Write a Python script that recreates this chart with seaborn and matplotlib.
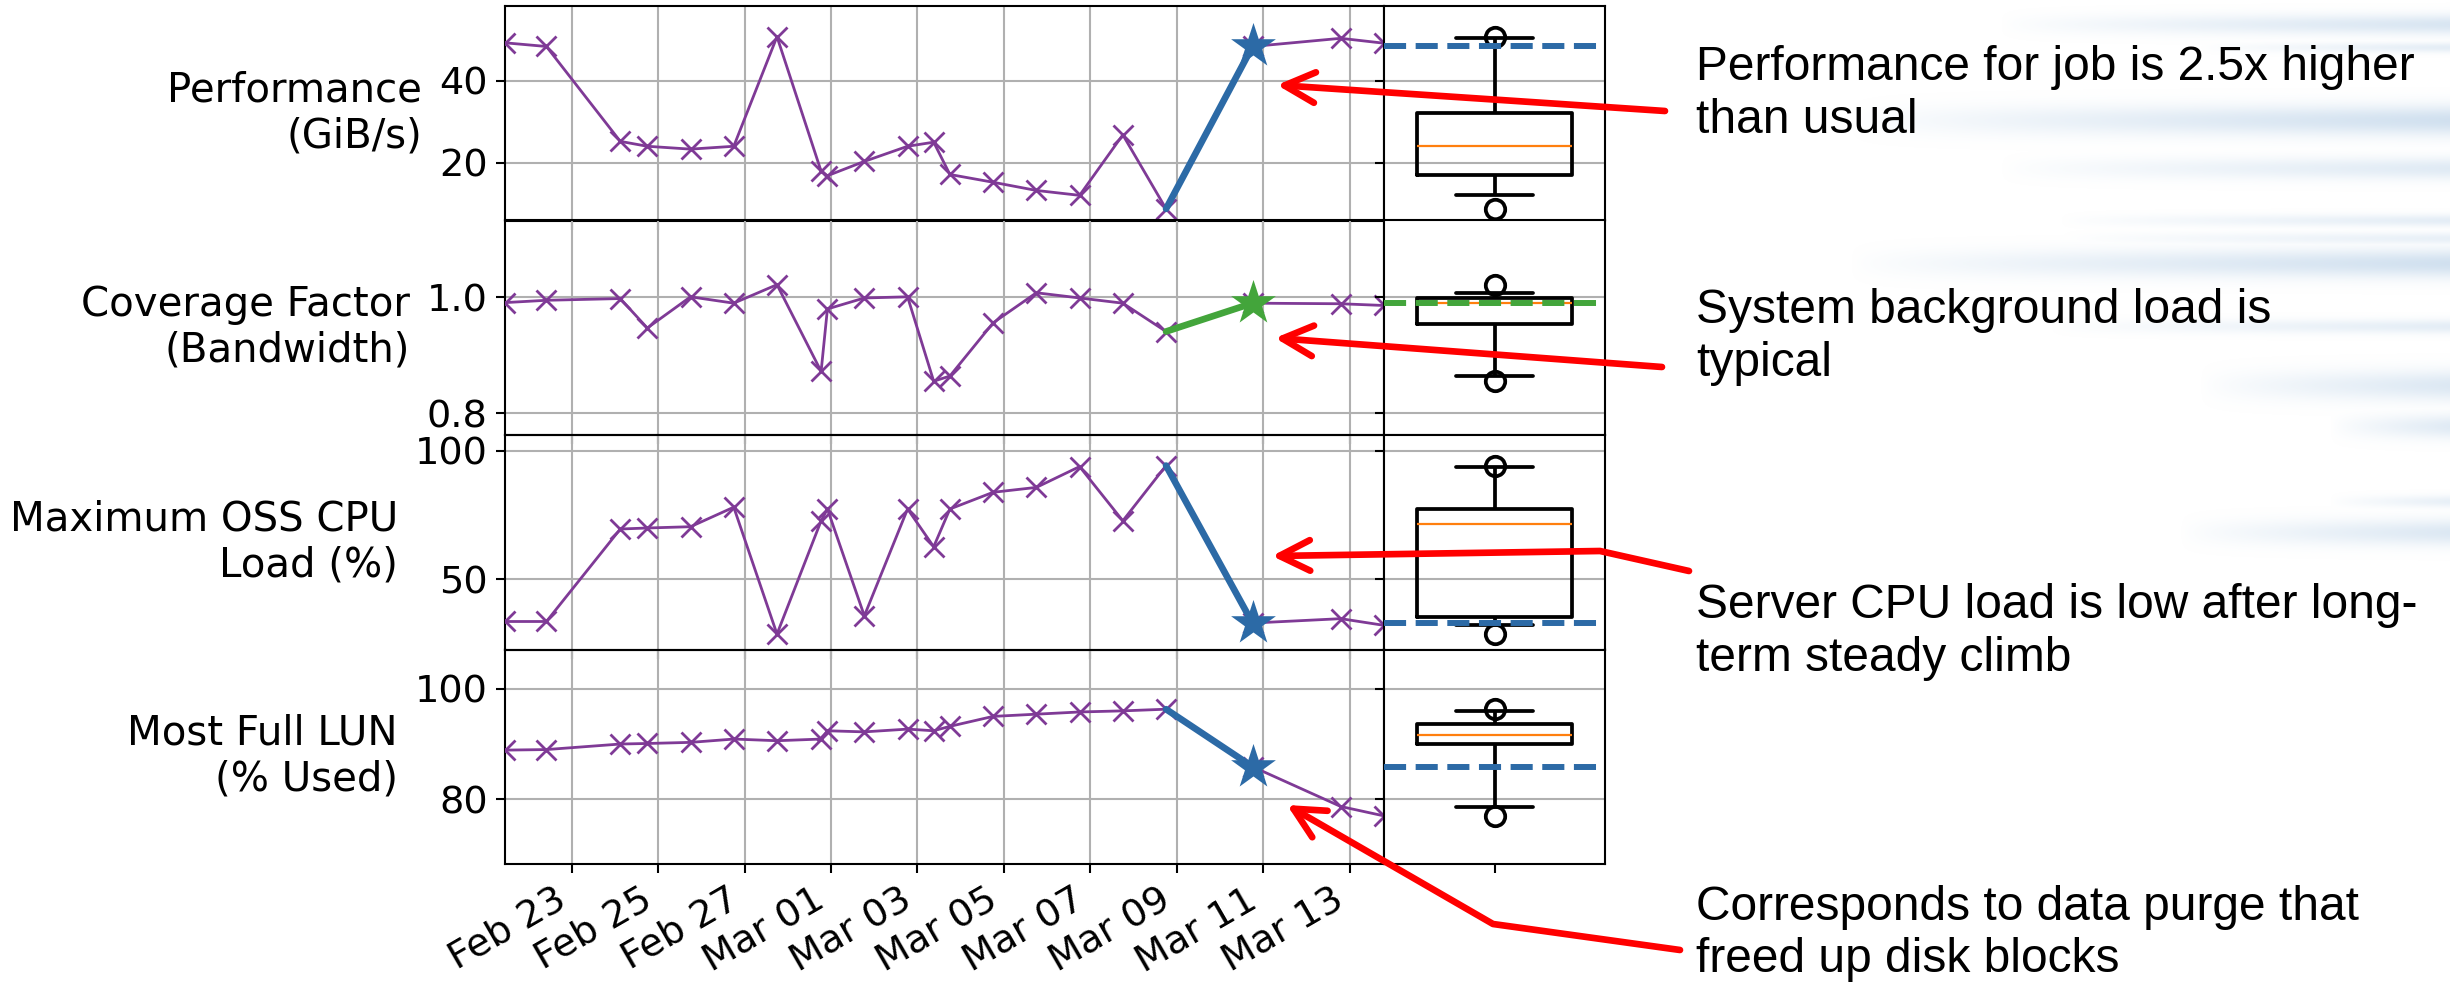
import numpy as np
import pandas as pd
import matplotlib
matplotlib.use("Agg")
import matplotlib.pyplot as plt
import matplotlib.dates as mdates
import seaborn as sns
from matplotlib.patches import FancyArrowPatch
from matplotlib.path import Path

# ---------------- data ----------------
dates = ["2017-02-21 11:00", "2017-02-22 10:00", "2017-02-24 03:00", "2017-02-24 18:00",
         "2017-02-25 18:00", "2017-02-26 18:00", "2017-02-27 18:00", "2017-02-28 18:30",
         "2017-02-28 22:00", "2017-03-01 18:30", "2017-03-02 18:30", "2017-03-03 09:00",
         "2017-03-03 18:00", "2017-03-04 18:00", "2017-03-05 18:00", "2017-03-06 18:00",
         "2017-03-07 18:00", "2017-03-08 18:00", "2017-03-10 18:00", "2017-03-12 19:00",
         "2017-03-13 19:00"]
performance = [49.3, 48.4, 25.2, 24.0, 23.3, 24.0, 50.8, 17.9, 16.8, 20.3, 24.0,
               25.0, 17.1, 15.2, 13.2, 12.0, 26.8, 8.7, 48.4, 50.4, 49.2]
coverage = [0.991, 0.995, 0.998, 0.947, 1.001, 0.990, 1.022, 0.872, 0.980, 0.999, 1.001,
            0.855, 0.864, 0.956, 1.008, 0.999, 0.990, 0.941, 0.990, 0.989, 0.986]
cpu_load = [33.5, 33.5, 69.5, 69.9, 70.4, 78.0, 28.6, 72.7, 77.3, 35.7, 77.3,
            62.6, 77.3, 83.8, 85.7, 93.8, 72.7, 94.2, 32.9, 34.6, 32.0]
lun_full = [88.9, 89.0, 90.0, 90.1, 90.3, 90.9, 90.6, 90.9, 92.4, 92.2, 92.7,
            92.4, 93.2, 95.0, 95.4, 95.8, 96.0, 96.3, 85.9, 78.7, 77.0]
series = [performance, coverage, cpu_load, lun_full]
row_labels = ["Performance\n(GiB/s)", "Coverage Factor\n(Bandwidth)",
              "Maximum OSS CPU\nLoad (%)", "Most Full LUN\n(% Used)"]
row_yticks = [[20, 40], [0.8, 1.0], [50, 100], [80, 100]]
highlight_index = 18
notes = [["Performance for job is 2.5x higher", "than usual"],
         ["System background load is", "typical"],
         ["Server CPU load is low after long-", "term steady climb"],
         ["Corresponds to data purge that", "freed up disk blocks"]]

# ---------------- style ----------------
PURPLE = "#7f3a96"
BLUE = "#2c6aa6"
GREEN = "#43a53b"
ORANGE = "#ff7f0e"
highlight_colors = [BLUE, GREEN, BLUE, BLUE]
ylims = [(5.85, 58.3), (0.762, 1.133), (22.6, 106.1), (68.3, 107.1)]

sns.set_style("ticks")
plt.rcParams.update({
    "font.family": ["DejaVu Sans"],
    "axes.edgecolor": "black",
    "axes.linewidth": 1.5,
    "axes.labelcolor": "black",
    "text.color": "black",
    "xtick.color": "black",
    "ytick.color": "black",
    "xtick.direction": "out",
    "ytick.direction": "out",
    "xtick.major.size": 6.3,
    "ytick.major.size": 6.3,
    "xtick.major.width": 1.5,
    "ytick.major.width": 1.5,
    "xtick.major.pad": 6.3,
    "ytick.major.pad": 6.3,
    "xtick.labelsize": 27.5,
    "ytick.labelsize": 27.5,
    "grid.color": "#b0b0b0",
    "grid.linewidth": 1.5,
})

W, H = 2450, 983
fig = plt.figure(figsize=(W / 100, H / 100), dpi=100)
fig.patch.set_facecolor("white")

dt = pd.to_datetime(dates)
left, width = 505, 879
bleft, bwidth = 1384, 221
top0, row_h = 6, 214.5

for i, vals in enumerate(series):
    top = top0 + row_h * i
    y0 = (H - top - row_h) / H
    ax = fig.add_axes([left / W, y0, width / W, row_h / H])
    ax.set_facecolor("none")
    df = pd.DataFrame({"date": dt, "value": vals})
    sns.lineplot(data=df, x="date", y="value", ax=ax, color=PURPLE, linewidth=2.0,
                 marker="x", markersize=14.5, markeredgewidth=2.0, markeredgecolor=PURPLE,
                 sort=False, estimator=None, zorder=3)
    hc = highlight_colors[i]
    seg = df.iloc[highlight_index - 1:highlight_index + 1]
    sns.lineplot(data=seg, x="date", y="value", ax=ax, color=hc, linewidth=4.8,
                 sort=False, estimator=None, zorder=4)
    star = df.iloc[[highlight_index]]
    sns.scatterplot(data=star, x="date", y="value", ax=ax, marker="*", s=1150,
                    color=hc, edgecolor=hc, linewidth=0, zorder=5)

    ax.set_xlim(dt[0], dt[-1])
    ax.set_ylim(*ylims[i])
    ax.set_yticks(row_yticks[i])
    ax.xaxis.set_major_locator(mdates.DayLocator(bymonthday=range(1, 32, 2)))
    ax.xaxis.set_major_formatter(mdates.DateFormatter("%b %d"))
    ax.grid(True)
    ax.set_xlabel("")
    ax.set_ylabel(row_labels[i], rotation=0, ha="right", va="center",
                  labelpad=12, fontsize=29)
    if i < 3:
        ax.tick_params(axis="x", labelbottom=False)
    else:
        for lbl in ax.get_xticklabels():
            lbl.set_rotation(30)
            lbl.set_ha("right")
    for sp in ax.spines.values():
        sp.set_visible(True)
        sp.set_linewidth(1.5)

    # box panel
    bx = fig.add_axes([bleft / W, y0, bwidth / W, row_h / H], sharey=ax)
    hist = np.delete(np.asarray(vals, dtype=float), highlight_index)
    blw = 2.7
    sns.boxplot(y=hist, ax=bx, whis=(5, 95), width=0.7, fill=False, color="black",
                linewidth=blw,
                boxprops=dict(linewidth=blw, color="black"),
                whiskerprops=dict(linewidth=blw, color="black"),
                capprops=dict(linewidth=blw, color="black"),
                medianprops=dict(color=ORANGE, linewidth=1.6),
                flierprops=dict(marker="o", markersize=14, markeredgewidth=blw,
                                markeredgecolor="black", markerfacecolor="none"))
    bx.axhline(vals[highlight_index], color=hc, lw=4.3, ls="--", zorder=6)
    bx.set_xlim(-0.5, 0.5)
    bx.set_xticks([0])
    bx.set_xticklabels([""])
    bx.tick_params(axis="y", labelleft=False)
    bx.set_ylabel("")
    bx.set_xlabel("")
    bx.grid(False)
    bx.yaxis.grid(True)
    for sp in bx.spines.values():
        sp.set_visible(True)
        sp.set_linewidth(1.5)
    ax.set_ylim(*ylims[i])

# ---------------- slide background streaks ----------------
bg = fig.add_axes([0, 0, 1, 1], zorder=-5)
bg.set_axis_off()
streaks = [(24, 10, 2000, 0.5), (47, 5, 2200, 0.35), (120, 15, 1850, 0.6),
           (168, 11, 2000, 0.4), (220, 6, 2060, 0.35), (238, 6, 2060, 0.3),
           (263, 14, 1850, 0.6), (326, 7, 2050, 0.35), (385, 15, 2200, 0.45),
           (426, 12, 2330, 0.4), (501, 6, 2330, 0.3), (532, 13, 2180, 0.45)]
img = np.zeros((H, W, 4))
img[..., 0], img[..., 1], img[..., 2] = 0.70, 0.80, 0.90
yy = np.arange(H)[:, None]
xx = np.arange(W)[None, :]
for yc, hh, xs, a in streaks:
    prof = np.exp(-((yy - yc) / hh) ** 2)
    ramp = np.clip((xx - xs) / (W - xs), 0, 1) ** 0.8
    img[..., 3] = np.maximum(img[..., 3], a * prof * ramp)
bg.imshow(img, extent=(0, W, H, 0), aspect="auto", interpolation="bilinear")
bg.set_xlim(0, W)
bg.set_ylim(H, 0)

# ---------------- annotations overlay ----------------
ov = fig.add_axes([0, 0, 1, 1], zorder=10)
ov.set_axis_off()
ov.set_xlim(0, W)
ov.set_ylim(H, 0)

baselines = [(80, 133), (323, 376), (618, 671), (920, 972)]
for lines, ys in zip(notes, baselines):
    for txt, yb in zip(lines, ys):
        ov.text(1696, yb, txt, fontsize=34.5, family=["Liberation Sans", "DejaVu Sans"],
                ha="left", va="baseline", color="black")

arrow_paths = [
    [(1277, 85), (1665, 111)],
    [(1275, 338), (1662, 367)],
    [(1272, 556), (1600, 551), (1689, 571)],
    [(1287, 805), (1493, 924), (1680, 950)],
]
for pts in arrow_paths:
    arr = FancyArrowPatch(path=Path(pts), arrowstyle="<-,head_length=1.1,head_width=0.55",
                          mutation_scale=20, lw=4.8, color="#ff0000",
                          capstyle="round", joinstyle="round", shrinkA=0, shrinkB=0)
    ov.add_patch(arr)

fig.savefig("out.png", dpi=100, facecolor="white")
